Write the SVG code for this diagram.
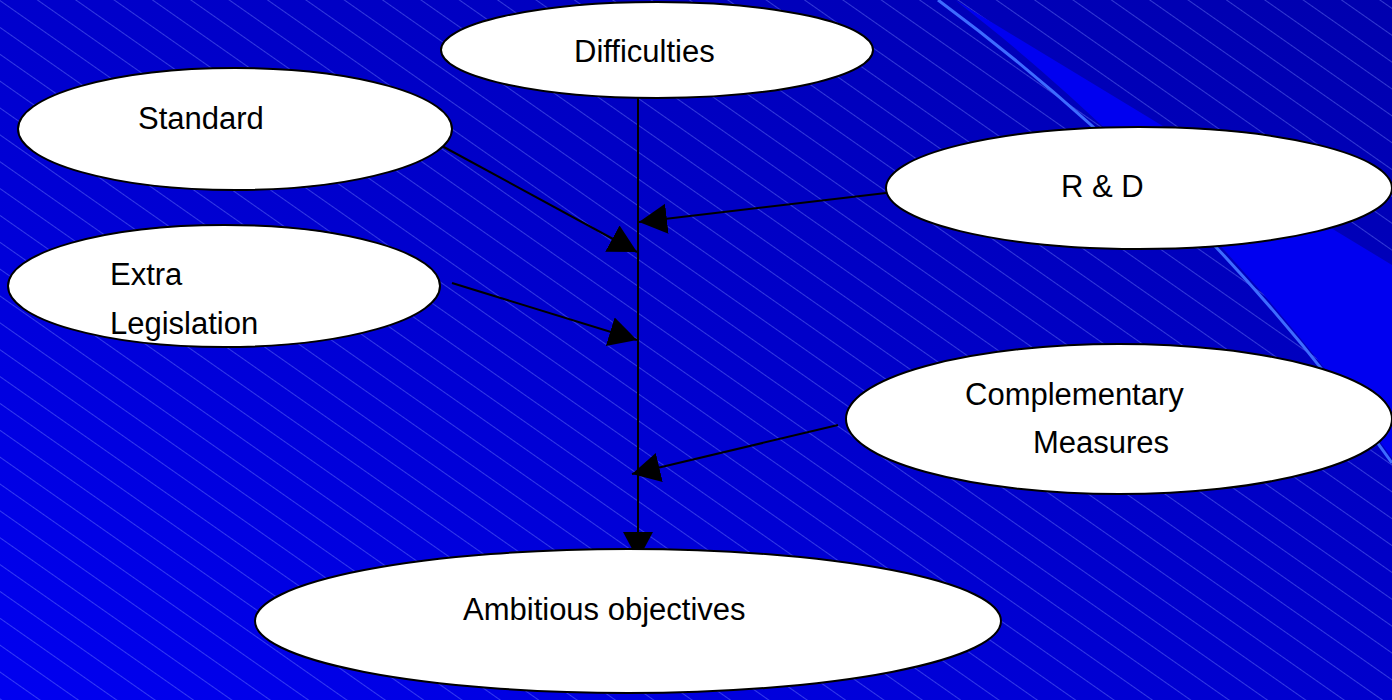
<svg xmlns="http://www.w3.org/2000/svg" width="1392" height="700" viewBox="0 0 1392 700">
  <style>
    .node { fill: #ffffff; stroke: #000000; stroke-width: 2; }
    .label { font-family: "Liberation Sans", Arial, sans-serif; font-size: 31px; fill: #000000; }
    .conn { stroke: #000000; stroke-width: 2; fill: none; marker-end: url(#arrow); }
  </style>
  <defs>
    <linearGradient id="bg" x1="0" y1="1" x2="1" y2="0">
      <stop offset="0" stop-color="#0000F0"/>
      <stop offset="0.5" stop-color="#0000CC"/>
      <stop offset="1" stop-color="#0000AE"/>
    </linearGradient>
    <pattern id="stripes" patternUnits="userSpaceOnUse" width="22" height="22" patternTransform="rotate(35)">
      <line x1="0" y1="0.5" x2="22" y2="0.5" stroke="#7F90FF" stroke-opacity="0.4" stroke-width="1"/>
    </pattern>
    <marker id="arrow" markerUnits="userSpaceOnUse" markerWidth="30" markerHeight="32" refX="28" refY="15" orient="auto">
      <path d="M0,0 L28,15 L0,30 Z" fill="#000000"/>
    </marker>
  </defs>

  <g id="background">
    <rect x="0" y="0" width="1392" height="700" fill="url(#bg)"/>
    <rect x="0" y="0" width="1392" height="700" fill="url(#stripes)"/>
    <path d="M955,0 C1085,100 1250,258 1392,458 L1392,265 Z" fill="#0000F0"/>
    <path d="M938,0 C1080,105 1250,260 1392,463" fill="none" stroke="#3D6BFF" stroke-width="3"/>
  </g>

  <g id="connectors">
    <line class="conn" x1="638" y1="98" x2="638" y2="560"/>
    <line class="conn" x1="442" y1="146" x2="637" y2="252"/>
    <line class="conn" x1="886" y1="193" x2="639" y2="222"/>
    <line class="conn" x1="452" y1="283" x2="637" y2="340"/>
    <line class="conn" x1="838" y1="425" x2="632" y2="474"/>
  </g>

  <g id="node-difficulties">
    <ellipse class="node" cx="657" cy="50" rx="216" ry="48"/>
    <text class="label" x="574" y="62">Difficulties</text>
  </g>
  <g id="node-standard">
    <ellipse class="node" cx="235" cy="129" rx="217" ry="61"/>
    <text class="label" x="138" y="129">Standard</text>
  </g>
  <g id="node-rd">
    <ellipse class="node" cx="1139" cy="188" rx="253" ry="61"/>
    <text class="label" x="1061" y="197">R &amp; D</text>
  </g>
  <g id="node-extra-legislation">
    <ellipse class="node" cx="224" cy="286" rx="216" ry="61"/>
    <text class="label" x="110" y="285">Extra</text>
    <text class="label" x="110" y="334">Legislation</text>
  </g>
  <g id="node-complementary-measures">
    <ellipse class="node" cx="1119" cy="419" rx="273" ry="75"/>
    <text class="label" x="965" y="405">Complementary</text>
    <text class="label" x="1033" y="453">Measures</text>
  </g>
  <g id="node-ambitious-objectives">
    <ellipse class="node" cx="628" cy="621" rx="373" ry="72"/>
    <text class="label" x="463" y="620">Ambitious objectives</text>
  </g>
</svg>
